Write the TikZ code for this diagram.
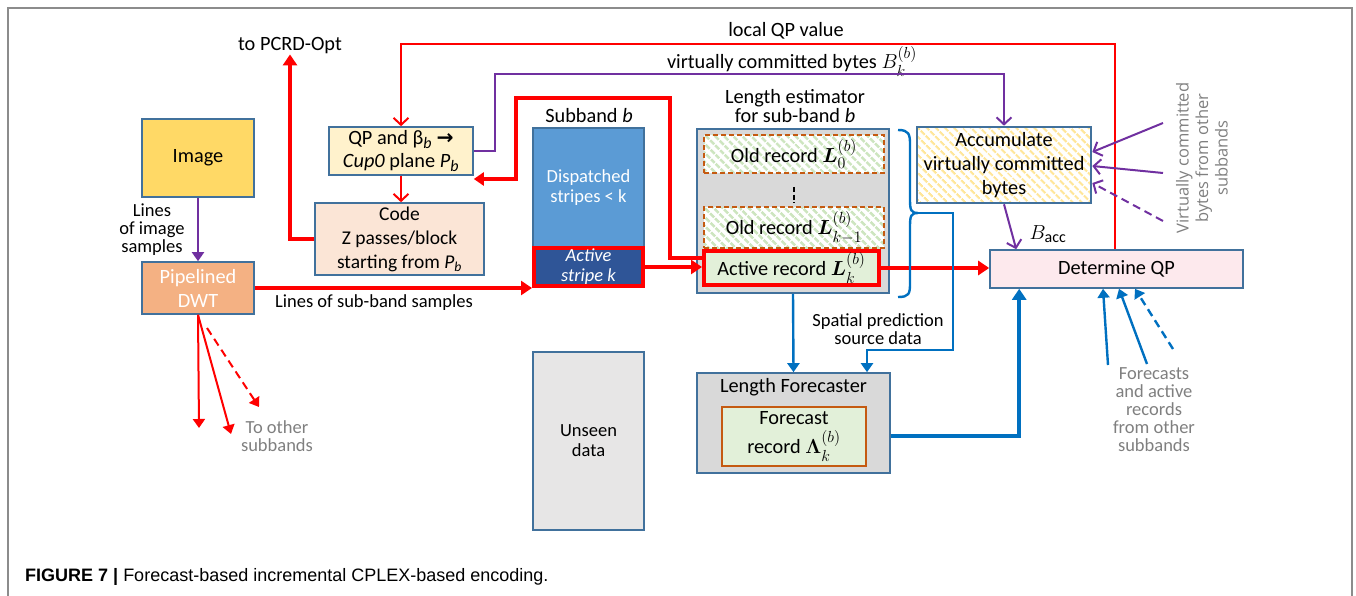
\RequirePackage{fix-cm}
\documentclass[tikz,border=0pt]{standalone}
\usepackage{amsmath}
\usepackage{bm}
\usepackage{fontspec}
\setmainfont{Carlito}
\newfontfamily\capfont{Liberation Sans}
\newfontfamily\rotfont{Open Sans}
\newfontfamily\arrowfont{DejaVu Sans}
\usetikzlibrary{arrows.meta,patterns.meta,calc}
\DeclareMathSizes{20.3}{20.3}{16}{12}
\DeclareMathSizes{18.5}{18.5}{14.5}{11}

\definecolor{boxblue}{HTML}{41719C}
\definecolor{linered}{HTML}{FF0000}
\definecolor{linepurple}{HTML}{7030A0}
\definecolor{lineblue}{HTML}{0070C0}
\definecolor{imgfill}{HTML}{FFD966}
\definecolor{dwtfill}{HTML}{F4B183}
\definecolor{qpfill}{HTML}{FFF2CC}
\definecolor{codefill}{HTML}{FBE5D6}
\definecolor{dispfill}{HTML}{5B9BD5}
\definecolor{stripefill}{HTML}{2F5597}
\definecolor{unseenfill}{HTML}{E7E6E6}
\definecolor{estfill}{HTML}{D9D9D9}
\definecolor{recfill}{HTML}{E2F0D9}
\definecolor{recborder}{HTML}{C55A11}
\definecolor{detfill}{HTML}{FDE9ED}
\definecolor{hatchgreen}{HTML}{CDE5BF}
\definecolor{hatchyellow}{HTML}{FFE699}
\definecolor{notegray}{HTML}{7F7F7F}
\definecolor{framegray}{HTML}{8C8C8C}

\newcommand\bigtext{\fontsize{20.3}{22}\selectfont}
\newcommand\smalltext{\fontsize{18.5}{18}\selectfont}

\begin{document}
\begin{tikzpicture}[x=1pt,y=-1pt,
  font=\bigtext,
  bx/.style={draw=boxblue,line width=1.6pt,inner sep=0pt,align=center},
  lab/.style={inner sep=0pt,align=center},
  graylab/.style={inner sep=0pt,align=center,text=notegray},
  openv/.tip={Straight Barb[length=7pt,width=15pt]},
  tri/.tip={Triangle[length=11pt,width=14pt]},
  smalltri/.tip={Triangle[length=9pt,width=12pt]},
  redthin/.style={draw=linered,line width=2pt},
  redthick/.style={draw=linered,line width=4pt},
  purp/.style={draw=linepurple,line width=2pt},
  blu/.style={draw=lineblue,line width=2.4pt},
  bluthick/.style={draw=lineblue,line width=4pt},
  oldrec/.style={draw=recborder,line width=1.6pt,dash pattern=on 5pt off 3pt,
    preaction={fill=white},
    pattern={Lines[angle=-45,distance=6.5pt,line width=2.8pt]},pattern color=hatchgreen,
    inner sep=0pt,minimum width=180pt,align=center}]

\useasboundingbox (0,0) rectangle (1356,596);

% outer frame
\draw[framegray,line width=1.2pt] (8,596) -- (8,8) -- (1352,8) -- (1352,596);

% ---------- boxes ----------
\node[bx,fill=imgfill,minimum width=112pt,minimum height=78pt] (img) at (198,158) {Image};
\node[bx,fill=dwtfill,text=white,minimum width=112pt,minimum height=52pt,
      font=\fontsize{20.3}{24}\selectfont] (dwt) at (198,288) {Pipelined\\DWT};

\node[bx,fill=qpfill,minimum width=144pt,minimum height=48pt,
      font=\fontsize{20.3}{23}\selectfont] (qp) at (401,151)
  {QP and β\textsubscript{\textit{b}} {\arrowfont\bfseries →}\\\textit{Cup0} plane \textit{P\textsubscript{b}}};
\node[bx,fill=codefill,minimum width=169pt,minimum height=72pt,
      font=\fontsize{19.5}{24}\selectfont] (code) at (399.5,239)
  {Code\\Z passes/block\\starting from \textit{P\textsubscript{b}}};

\node[bx,fill=dispfill,text=white,minimum width=111pt,minimum height=119pt,
      font=\fontsize{18.5}{20}\selectfont] (disp) at (588.5,187.5) {Dispatched\\stripes < k};
\node[draw=linered,line width=4pt,fill=stripefill,text=white,inner sep=0pt,align=center,
      minimum width=109pt,minimum height=38pt,font=\fontsize{18.5}{20}\selectfont\itshape]
  (stripe) at (588.5,267) {Active\\stripe k};
\node[bx,fill=unseenfill,minimum width=111pt,minimum height=178pt,
      font=\fontsize{18.5}{20}\selectfont] (unseen) at (588.5,441) {Unseen\\data};

\node[bx,fill=estfill,minimum width=192pt,minimum height=164pt] (est) at (793,211) {};
\node[oldrec,minimum height=38pt] (old0) at (794,154) {Old record $\bm{L}_0^{(b)}$};
\node[oldrec,minimum height=41pt] (oldk) at (794,227.5) {Old record $\bm{L}_{k-1}^{(b)}$};
\draw[black,line width=2.6pt,dash pattern=on 5pt off 2.5pt] (794,187) -- (794,203);
\node[draw=linered,line width=4pt,fill=recfill,inner sep=0pt,align=center,
      minimum width=175pt,minimum height=34pt] (act) at (791.5,268) {Active record $\bm{L}_k^{(b)}$};

\node[bx,minimum width=174pt,minimum height=76pt,preaction={fill=white},
      pattern={Lines[angle=-45,distance=6.5pt,line width=2.6pt]},pattern color=hatchyellow,
      font=\fontsize{20.3}{24}\selectfont] (acc) at (1004,165)
  {Accumulate\\virtually committed\\bytes};
\node[bx,fill=detfill,minimum width=253pt,minimum height=38pt] (det) at (1116.5,269) {Determine QP};

\node[bx,fill=estfill,minimum width=193pt,minimum height=100pt] (fc) at (793.5,423) {};
\node[lab] (fct) at (793.5,387) {Length Forecaster};
\node[draw=recborder,line width=1.6pt,fill=recfill,inner sep=0pt,align=center,
      minimum width=144pt,minimum height=59pt,font=\fontsize{20.3}{29}\selectfont]
  (fcin) at (794,436.5) {Forecast\\record $\bm{\Lambda}_k^{(b)}$};

% ---------- labels ----------
\node[lab] (pcrd) at (290,46) {to PCRD-Opt};
\node[lab] (lqp) at (786,31) {local QP value};
\node[lab,anchor=base] (vcb) at (792,69) {virtually committed bytes $B_k^{(b)}$};
\node[lab] (subb) at (589,116) {Subband \textit{b}};
\node[lab,font=\fontsize{20.3}{18.5}\selectfont] (lest) at (795,106) {Length estimator\\for sub-band \textit{b}};
\node[lab,font=\smalltext] (lis) at (152,230) {Lines\\of image\\samples};
\node[lab,font=\smalltext] (lsb) at (374,303) {Lines of sub-band samples};
\node[graylab,font=\smalltext] (toother) at (277,436) {To other\\subbands};
\node[lab,font=\smalltext] (spd) at (878,329) {Spatial prediction\\source data};
\node[lab] (bacc) at (1048,234) {$B_{\mathrm{acc}}$};
\node[graylab,rotate=90,font=\rotfont\fontsize{16.5}{19.5}\selectfont] (vother) at (1202,158)
  {Virtually committed\\bytes from other\\subbands};
\node[graylab,font=\smalltext] (fother) at (1154,410)
  {Forecasts\\and active\\records\\from other\\subbands};

\node[inner sep=0pt,anchor=west,font=\capfont\fontsize{18}{20}\selectfont] (cap) at (25,577)
  {\textbf{FIGURE 7 |} Forecast-based incremental CPLEX-based encoding.};

% ---------- connectors ----------
% image path
\draw[purp,-{smalltri}] (img.south) -- (dwt.north);
\draw[redthick,-{tri}] (dwt.east) -- (stripe.south west);
\draw[redthick,-{tri}] (stripe.east) -- (act.west |- stripe.east);

% DWT outputs to the other subbands
\coordinate (d1) at (199,428);
\coordinate (d2) at (231,434);
\coordinate (d3s) at (207,328);
\coordinate (d3) at (259,407);
\draw[redthin,-{smalltri}] (dwt.south) -- (d1);
\draw[redthin,-{smalltri}] (dwt.south) -- (d2);
\draw[redthin,dash pattern=on 8pt off 5pt,-{smalltri}] (d3s) -- (d3);

% coding loop
\draw[redthin,-{openv}] (qp.south) -- (qp.south |- code.north);
\draw[redthick,-{tri}] (code.west) -| (pcrd.south);
\draw[redthick,-{Triangle[length=10pt,width=13pt]}] (act.west |- 0,258) -- (670,258) -- (670,98)
  -- (516,98) -- (516,179) -- (qp.east |- 0,179);
\draw[redthin,-{openv}] (det.north -| 1115,0) -- (1115,44) -- (qp.north |- 0,44) -- (qp.north);
\draw[purp,-{openv}] (qp.east) -| (495,74) -| (acc.north);
\draw[redthick,-{tri}] (act.east) -- (det.west |- act.east);
\draw[purp,-{openv}] (acc.south) -- ($(det.north west)+(27,0)$);

% bytes from the other subbands
\coordinate (v1) at (1163,123);
\coordinate (v2) at (1163,173);
\coordinate (v3) at (1163,221);
\draw[purp,-{openv}] (v1) -- (acc.east |- 0,152);
\draw[purp,-{openv}] (v2) -- (acc.east |- 0,166);
\draw[purp,dash pattern=on 8pt off 5pt,-{openv}] (v3) -- (acc.east |- 0,183);

% length estimator brace and forecaster
\coordinate (bt) at (918,213);
\draw[blu] (898,130) .. controls (909,130) and (910,134) .. (910,145) -- (910,200)
  .. controls (910,210) and (911,213) .. (bt)
  .. controls (911,213) and (910,216) .. (910,226) -- (910,283)
  .. controls (910,294) and (909,297) .. (898,297);
\draw[blu,-{smalltri}] (bt) -- (953,213) -- (953,350) -- (867,350) -- (fc.north -| 867,0);
\draw[blu,-{smalltri}] (est.south) -- (fc.north);
\draw[bluthick,-{tri}] (fc.east |- 0,436) -| ($(det.south west)+(30,0)$);

% forecasts from the other subbands
\coordinate (f1) at (1108,365);
\coordinate (f2) at (1147,364);
\coordinate (f3) at (1173,349);
\draw[blu,-{smalltri}] (f1) -- (det.south -| 1103,0);
\draw[blu,-{smalltri}] (f2) -- (det.south -| 1119,0);
\draw[blu,dash pattern=on 8pt off 5pt,-{smalltri}] (f3) -- (det.south -| 1135,0);

\end{tikzpicture}
\end{document}
